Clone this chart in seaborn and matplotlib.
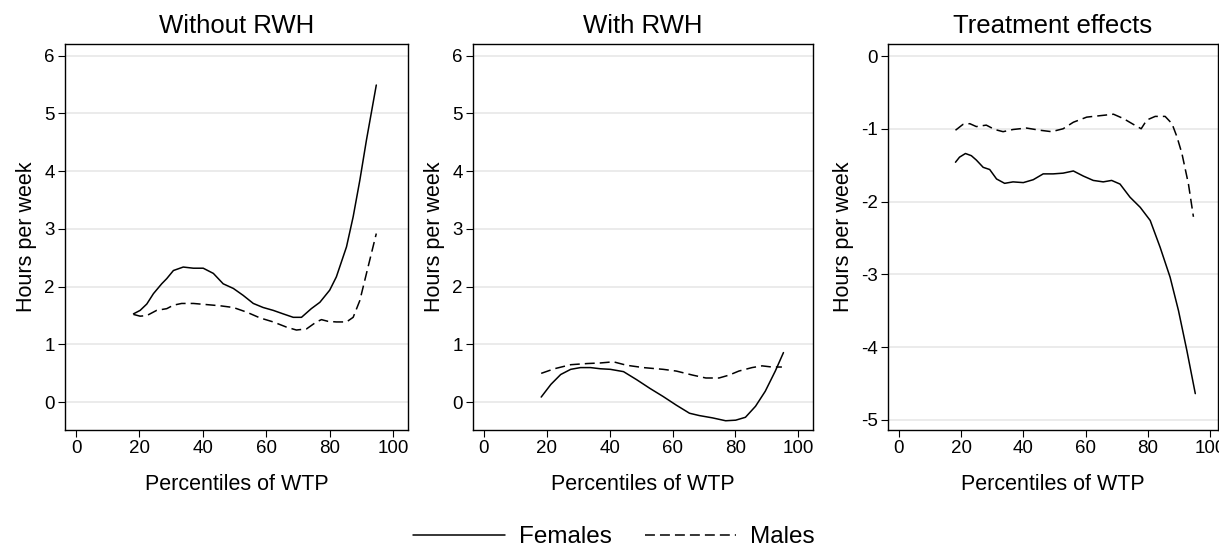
import matplotlib
matplotlib.use("Agg")
from matplotlib import pyplot as plt
from matplotlib.lines import Line2D
import pandas as pd
import seaborn as sns

# values
wo_f_x = [18.1, 20.2, 22.3, 24.4, 27.0, 28.6, 30.7, 33.8, 37.0, 40.1, 43.3, 46.4, 49.6, 52.7, 55.9,
          59.0, 62.2, 65.3, 68.5, 71.1, 74.2, 76.9, 80.0, 82.1, 85.3, 87.4, 89.5, 91.6, 94.7]
wo_f_y = [1.53, 1.59, 1.70, 1.88, 2.05, 2.14, 2.28, 2.34, 2.32, 2.32, 2.23, 2.05, 1.97, 1.85, 1.71,
          1.64, 1.59, 1.53, 1.47, 1.47, 1.62, 1.73, 1.94, 2.17, 2.69, 3.21, 3.84, 4.54, 5.49]
wo_m_x = [18.1, 20.2, 22.3, 25.4, 28.6, 30.7, 33.3, 37.0, 41.2, 45.4, 49.6, 53.8, 58.0, 62.2, 66.4,
          69.5, 72.7, 75.8, 77.4, 79.5, 82.1, 85.3, 87.4, 89.5, 91.6, 94.7]
wo_m_y = [1.52, 1.49, 1.50, 1.59, 1.62, 1.68, 1.71, 1.71, 1.69, 1.67, 1.64, 1.56, 1.46, 1.39, 1.30,
          1.25, 1.27, 1.39, 1.43, 1.40, 1.39, 1.39, 1.47, 1.76, 2.23, 2.92]

w_f_x = [18.2, 21.3, 24.4, 27.6, 30.7, 33.9, 37.0, 40.2, 44.4, 48.6, 52.8, 57.0, 61.2, 65.4, 68.5,
         72.7, 76.9, 80.1, 83.2, 86.4, 89.5, 92.7, 95.3]
w_f_y = [0.09, 0.31, 0.48, 0.57, 0.60, 0.60, 0.58, 0.57, 0.53, 0.39, 0.24, 0.10, -0.05, -0.19, -0.23,
         -0.27, -0.32, -0.31, -0.26, -0.07, 0.19, 0.54, 0.86]
w_m_x = [18.2, 22.4, 27.6, 32.8, 37.0, 41.2, 45.4, 50.7, 57.0, 61.2, 66.4, 70.6, 74.8, 78.0, 81.1,
         85.3, 88.5, 91.6, 94.8]
w_m_y = [0.50, 0.58, 0.65, 0.67, 0.68, 0.70, 0.64, 0.60, 0.57, 0.54, 0.47, 0.42, 0.42, 0.47, 0.54,
         0.60, 0.63, 0.61, 0.61]

te_f_x = [18.2, 19.5, 21.4, 23.3, 24.9, 27.1, 29.2, 31.4, 34.0, 36.7, 40.0, 43.2, 46.4, 49.6, 52.8,
          56.1, 59.3, 62.5, 65.7, 68.4, 71.1, 74.3, 77.6, 80.8, 84.0, 87.2, 89.9, 92.6, 95.3]
te_f_y = [-1.46, -1.39, -1.34, -1.37, -1.43, -1.53, -1.56, -1.69, -1.75, -1.73, -1.74, -1.70, -1.62,
          -1.62, -1.61, -1.58, -1.65, -1.71, -1.73, -1.71, -1.76, -1.94, -2.08, -2.26, -2.63, -3.04,
          -3.50, -4.05, -4.64]
te_m_x = [18.2, 20.6, 22.8, 24.9, 28.1, 30.8, 33.5, 36.7, 41.0, 45.3, 49.1, 52.8, 56.1, 60.4, 64.7,
          69.0, 72.2, 75.4, 77.9, 79.7, 82.4, 85.6, 87.8, 89.4, 91.0, 93.1, 94.7]
te_m_y = [-1.02, -0.94, -0.93, -0.97, -0.95, -1.01, -1.04, -1.01, -0.99, -1.02, -1.04, -1.00, -0.91,
          -0.84, -0.82, -0.80, -0.86, -0.94, -1.00, -0.88, -0.83, -0.83, -0.93, -1.11, -1.34, -1.76,
          -2.21]

titles = ["Without RWH", "With RWH", "Treatment effects"]
yticks_list = [[0, 1, 2, 3, 4, 5, 6], [0, 1, 2, 3, 4, 5, 6], [0, -1, -2, -3, -4, -5]]
xticks = [0, 20, 40, 60, 80, 100]


def make_df(fx, fy, mx, my):
    return pd.concat([
        pd.DataFrame({"pct": fx, "hours": fy, "sex": "Females"}),
        pd.DataFrame({"pct": mx, "hours": my, "sex": "Males"}),
    ], ignore_index=True)


panels = [
    make_df(wo_f_x, wo_f_y, wo_m_x, wo_m_y),
    make_df(w_f_x, w_f_y, w_m_x, w_m_y),
    make_df(te_f_x, te_f_y, te_m_x, te_m_y),
]

sns.set_theme(style="white")
plt.rcParams["font.family"] = ["Liberation Sans", "DejaVu Sans"]
plt.rcParams["axes.unicode_minus"] = False
plt.rcParams["text.color"] = "black"
plt.rcParams["axes.labelcolor"] = "black"
plt.rcParams["xtick.color"] = "black"
plt.rcParams["ytick.color"] = "black"

fig = plt.figure(figsize=(12.19, 5.48), dpi=100)
H = 548.0
W = 1219.0
boxes = [(65, 408), (473, 813), (888, 1218)]
ylims = [(-0.48, 6.2), (-0.48, 6.2), (-5.14, 0.165)]
xlims = [(-3.5, 104.7), (-3.5, 104.7), (-3.5, 102.6)]
dash = (6.5, 3.3)

for i, df in enumerate(panels):
    l, r = boxes[i]
    ax = fig.add_axes([l / W, (H - 430) / H, (r - l) / W, (430 - 44) / H])
    sns.lineplot(data=df, x="pct", y="hours", style="sex", color="black",
                 dashes={"Females": "", "Males": dash}, estimator=None, sort=True,
                 linewidth=1.1, legend=False, ax=ax)
    ax.set_xlim(*xlims[i])
    ax.set_ylim(*ylims[i])
    ax.set_xticks(xticks)
    ax.set_yticks(yticks_list[i])
    ax.grid(axis="y", color="#e8e8e8", linewidth=1.2)
    ax.grid(axis="x", visible=False)
    ax.set_axisbelow(True)
    for s in ax.spines.values():
        s.set_color("black")
        s.set_linewidth(1.0)
    ax.tick_params(axis="both", which="major", direction="out", length=5, width=0.8,
                   color="black", labelcolor="black", labelsize=13.5, left=True, bottom=True,
                   pad=2.5)
    ax.set_xlabel("Percentiles of WTP", fontsize=15.5, labelpad=12)
    ax.set_ylabel("Hours per week", fontsize=15.5, labelpad=5)
    ax.set_title(titles[i], fontsize=18.5, pad=8)

handles = [Line2D([], [], color="black", linewidth=1.1),
           Line2D([], [], color="black", linewidth=1.1, dashes=dash)]
fig.legend(handles, ["Females", "Males"], loc="center", bbox_to_anchor=(614 / W, 1 - 537 / H),
           ncol=2, frameon=False, fontsize=17.5, handlelength=3.75, columnspacing=1.36,
           handletextpad=0.58, borderpad=0)

fig.savefig("out.png", dpi=100, facecolor="white")
